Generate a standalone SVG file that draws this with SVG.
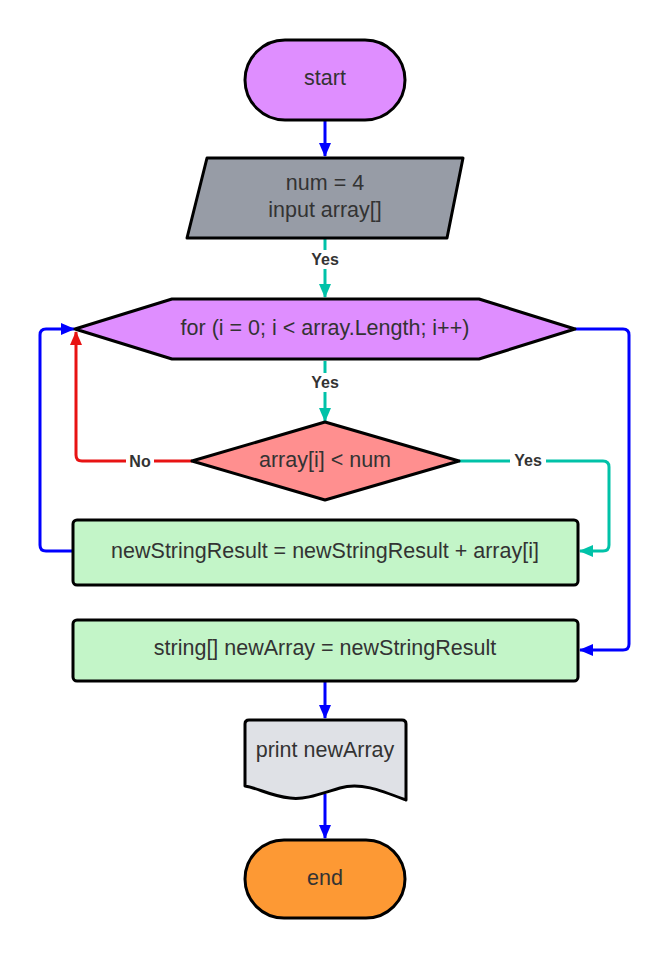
<svg xmlns="http://www.w3.org/2000/svg" width="672" height="960" viewBox="0 0 672 960">
<defs>
<style>
.node{stroke:#000;stroke-width:3;stroke-linejoin:round}
.t{font-family:"Liberation Sans",Arial,sans-serif;font-size:21.5px;fill:#333;text-anchor:middle;dominant-baseline:central}
.lbl{font-family:"Liberation Sans",Arial,sans-serif;font-size:16px;font-weight:bold;fill:#333;text-anchor:middle;dominant-baseline:central}
.lb{fill:#fff}
.c{fill:none;stroke-width:3;stroke-linejoin:round}
.blue{stroke:#0000ff}
.teal{stroke:#00c2a8}
.red{stroke:#e81313}
</style>
<marker id="ab" markerWidth="14" markerHeight="12" refX="13" refY="6" orient="auto" markerUnits="userSpaceOnUse"><path d="M0,0 L14,6 L0,12 Z" fill="#0000ff"/></marker>
<marker id="at" markerWidth="14" markerHeight="12" refX="13" refY="6" orient="auto" markerUnits="userSpaceOnUse"><path d="M0,0 L14,6 L0,12 Z" fill="#00c2a8"/></marker>
<marker id="ar" markerWidth="14" markerHeight="12" refX="13" refY="6" orient="auto" markerUnits="userSpaceOnUse"><path d="M0,0 L14,6 L0,12 Z" fill="#e81313"/></marker>
</defs>
<rect width="672" height="960" fill="#fff"/>
<g id="connectors">
<path class="c blue" d="M325,121 L325,156" marker-end="url(#ab)"/>
<path class="c teal" d="M325,239 L325,297" marker-end="url(#at)"/>
<path class="c teal" d="M325,361 L325,421" marker-end="url(#at)"/>
<path class="c red" d="M192,461 L82,461 Q76,461 76,455 L76,332" marker-end="url(#ar)"/>
<path class="c teal" d="M459,461 L603,461 Q609,461 609,467 L609,545 Q609,551 603,551 L580,551" marker-end="url(#at)"/>
<path class="c blue" d="M73,551 L46,551 Q40,551 40,545 L40,335 Q40,329 46,329 L74,329" marker-end="url(#ab)"/>
<path class="c blue" d="M575,329 L623,329 Q629,329 629,335 L629,644 Q629,650 623,650 L580,650" marker-end="url(#ab)"/>
<path class="c blue" d="M325,682 L325,718" marker-end="url(#ab)"/>
<path class="c blue" d="M325,794 L325,838" marker-end="url(#ab)"/>
<rect class="lb" x="307" y="250" width="36" height="19"/>
<text class="lbl" x="325" y="259">Yes</text>
<rect class="lb" x="307" y="373" width="36" height="19"/>
<text class="lbl" x="325" y="382">Yes</text>
<rect class="lb" x="126" y="452" width="28" height="19"/>
<text class="lbl" x="140" y="461">No</text>
<rect class="lb" x="510" y="451" width="36" height="19"/>
<text class="lbl" x="528" y="460">Yes</text>
</g>
<g id="start">
<rect class="node" x="245" y="40" width="160" height="80" rx="40" fill="#df8eff"/>
<text class="t" x="325" y="78">start</text>
</g>
<g id="input">
<path class="node" d="M207,158 L463,158 L447,238 L187,238 Z" fill="#979ca6"/>
<text class="t" x="325" y="183">num = 4</text>
<text class="t" x="325" y="210">input array[]</text>
</g>
<g id="for">
<path class="node" d="M75,329 L172,299 L479,299 L575,329 L479,359 L172,359 Z" fill="#df8eff"/>
<text class="t" x="325" y="328">for (i = 0; i &lt; array.Length; i++)</text>
</g>
<g id="cond">
<path class="node" d="M325,422 L459,461 L325,500 L192,461 Z" fill="#ff8f8f"/>
<text class="t" x="325" y="460">array[i] &lt; num</text>
</g>
<g id="concat">
<rect class="node" x="73" y="520" width="505" height="65" rx="4" fill="#c3f5c8"/>
<text class="t" x="325" y="551">newStringResult = newStringResult + array[i]</text>
</g>
<g id="assign">
<rect class="node" x="73" y="620" width="505" height="61" rx="4" fill="#c3f5c8"/>
<text class="t" x="325" y="648">string[] newArray = newStringResult</text>
</g>
<g id="print">
<path class="node" d="M249,720 L402,720 Q406,720 406,724 L406,800 C380,790 360,782 340,788 C320,794 305,800 290,798 C270,796 258,788 245,786 L245,724 Q245,720 249,720 Z" fill="#dfe1e6"/>
<text class="t" x="325" y="750">print newArray</text>
</g>
<g id="end">
<rect class="node" x="245" y="840" width="160" height="78" rx="39" fill="#fd9934"/>
<text class="t" x="325" y="878">end</text>
</g>
</svg>
